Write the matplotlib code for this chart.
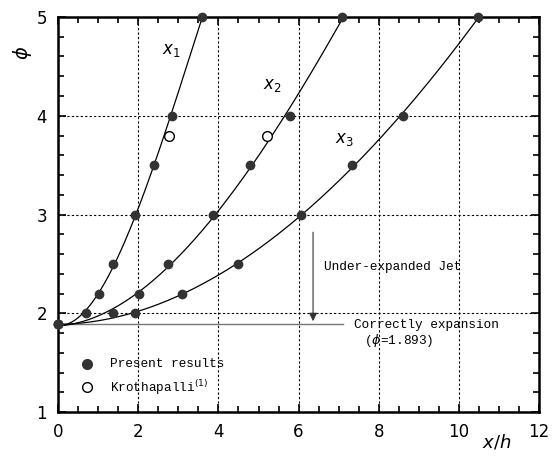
import numpy as np
import matplotlib.pyplot as plt
from matplotlib.ticker import MultipleLocator

# Present results (x/h, phi) for the three characteristic lengths
x1_x = [0.0, 0.70, 1.03, 1.37, 1.91, 2.39, 2.84, 3.59]
x1_phi = [1.893, 2.0, 2.2, 2.5, 3.0, 3.5, 4.0, 5.0]
x2_x = [0.0, 1.36, 2.03, 2.73, 3.86, 4.78, 5.78, 7.08]
x2_phi = [1.893, 2.0, 2.2, 2.5, 3.0, 3.5, 4.0, 5.0]
x3_x = [0.0, 1.93, 3.08, 4.48, 6.05, 7.34, 8.61, 10.48]
x3_phi = [1.893, 2.0, 2.2, 2.5, 3.0, 3.5, 4.0, 5.0]

# Krothapalli data
kro_x = [2.76, 5.2]
kro_phi = [3.8, 3.8]

phi_correct = 1.893

narrow = ['Liberation Sans Narrow', 'DejaVu Sans Condensed', 'DejaVu Sans']
mono = ['Liberation Mono', 'DejaVu Sans Mono']


def main():
    fig = plt.figure(figsize=(5.53, 4.58), dpi=100)
    ax = fig.add_axes([0.105, 0.1, 0.87, 0.863])

    for xs, ys in [(x1_x, x1_phi), (x2_x, x2_phi), (x3_x, x3_phi)]:
        # smooth fitted curve through the points
        c = np.polyfit(xs, ys, 3)
        xx = np.linspace(0, xs[-1], 200)
        ax.plot(xx, np.polyval(c, xx), color='black', lw=0.9, zorder=3)
        ax.plot(xs, ys, 'o', color='#333333', ms=6, zorder=4, clip_on=False)

    ax.plot(kro_x, kro_phi, 'o', mfc='white', mec='black', ms=7, mew=1.0, zorder=4)

    # correctly expanded level
    ax.plot([0, 7.1], [phi_correct, phi_correct], color='#777777', lw=1.0, zorder=2)
    ax.annotate('', xy=(6.36, phi_correct), xytext=(6.36, 2.85),
                arrowprops=dict(arrowstyle='-|>', color='#333333', lw=0.8,
                                mutation_scale=12))
    ax.text(6.63, 2.47, 'Under-expanded Jet', family=mono, fontsize=9.2, va='center')
    ax.text(7.38, 1.88, 'Correctly expansion', family=mono, fontsize=9.2, va='center')
    ax.text(7.62, 1.73, '($\\phi$=1.893)', family=mono, fontsize=9.2, va='center')

    # curve labels
    ax.text(2.6, 4.62, '$x_1$', fontsize=12, family='serif')
    ax.text(5.1, 4.27, '$x_2$', fontsize=12, family='serif')
    ax.text(6.9, 3.72, '$x_3$', fontsize=12, family='serif')

    # legend drawn by hand
    ax.plot([0.73], [1.49], 'o', color='#333333', ms=7)
    ax.text(1.3, 1.49, 'Present results', family=mono, fontsize=9.2, va='center')
    ax.plot([0.73], [1.25], 'o', mfc='white', mec='black', ms=7)
    ax.text(1.3, 1.25, 'Krothapalli$^{(1)}$', family=mono, fontsize=9.2, va='center')

    ax.set_xlim(0, 12)
    ax.set_ylim(1, 5)
    ax.xaxis.set_major_locator(MultipleLocator(2))
    ax.xaxis.set_minor_locator(MultipleLocator(0.5))
    ax.yaxis.set_major_locator(MultipleLocator(1))
    ax.yaxis.set_minor_locator(MultipleLocator(0.2))
    ax.tick_params(which='both', direction='in', top=True, right=True, width=1.2)
    ax.tick_params(which='major', length=6, labelsize=12, pad=8)
    ax.tick_params(which='minor', length=4)
    for lab in ax.get_xticklabels() + ax.get_yticklabels():
        lab.set_family(narrow)
    for s in ax.spines.values():
        s.set_linewidth(1.8)

    ax.grid(True, which='major', color='black', ls=(0, (2, 2)), lw=0.8)

    fig.text(22 / 553, 1 - 53 / 458, '$\\phi$', fontsize=14, ha='center', va='center', rotation=90)
    fig.text(497 / 553, 1 - 442 / 458, '$x/h$', fontsize=13, ha='center', va='center')

    fig.savefig('out.png', dpi=100)


if __name__ == "__main__":
    main()
